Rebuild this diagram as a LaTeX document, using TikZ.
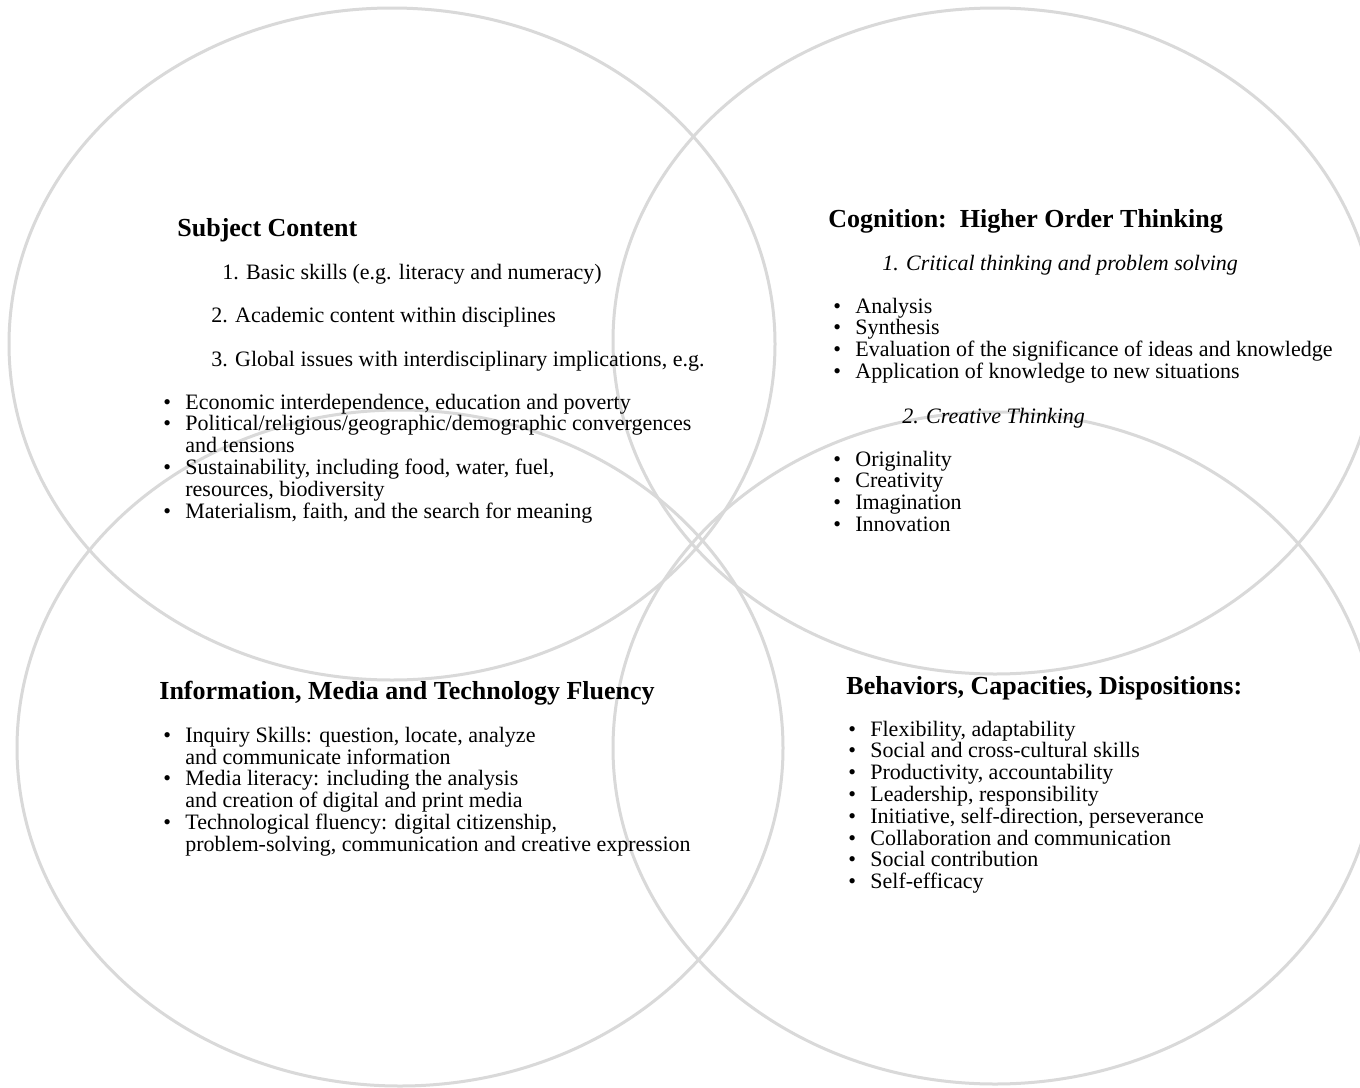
\documentclass[tikz,border=0pt]{standalone}
\usepackage{fontspec}
\setmainfont{Liberation Serif}
\usetikzlibrary{positioning}

\newcommand{\bul}{\makebox[11pt][l]{\textbullet}}

\begin{document}
\begin{tikzpicture}[
    x=0.5pt, y=-0.5pt,
    ring/.style={draw=black!15, line width=1.5pt},
    heading/.style={anchor=base west, inner sep=0pt, font=\fontsize{13}{15}\selectfont\bfseries},
    item/.style={anchor=base west, inner sep=0pt, font=\fontsize{11}{13}\selectfont},
    subhead/.style={item, font=\fontsize{11}{13}\selectfont\itshape},
    bullets/.style={anchor=base west, inner sep=0pt, font=\fontsize{11}{10.85}\selectfont}
]
    \useasboundingbox[fill=white] (0,0) rectangle (1360,1087);
    \draw[ring] (392,344) ellipse [x radius=383, y radius=336];
    \draw[ring] (995,341) ellipse [x radius=382, y radius=333];
    \draw[ring] (400,748) ellipse [x radius=383, y radius=338];
    \draw[ring] (995,748) ellipse [x radius=382, y radius=336];

    \node (subj) [heading] at (177,236) {Subject Content};
    \node (basic) [item] at ([shift={(45,43)}]subj.base west) {1. Basic skills (e.g. literacy and numeracy)};
    \node (academic) [item] at ([shift={(-11,43)}]basic.base west) {2. Academic content within disciplines};
    \node (global) [item] at ([shift={(0,44)}]academic.base west) {3. Global issues with interdisciplinary implications, e.g.};
    \node (issues) [bullets] at ([shift={(-48,43)}]global.base west) {\begin{tabular}[t]{@{}l@{}l@{}}
        \bul & Economic interdependence, education and poverty \\
        \bul & Political/religious/geographic/demographic convergences \\
             & and tensions \\
        \bul & Sustainability, including food, water, fuel, \\
             & resources, biodiversity \\
        \bul & Materialism, faith, and the search for meaning
    \end{tabular}};

    \node (cogn) [heading] at (828,227) {Cognition:\ \ Higher Order Thinking};
    \node (critical) [subhead] at ([shift={(54,43)}]cogn.base west) {1. Critical thinking and problem solving};
    \node (critlist) [bullets] at ([shift={(-49,43)}]critical.base west) {\begin{tabular}[t]{@{}l@{}l@{}}
        \bul & Analysis \\
        \bul & Synthesis \\
        \bul & Evaluation of the significance of ideas and knowledge \\
        \bul & Application of knowledge to new situations
    \end{tabular}};
    \node (creative) [subhead] at ([shift={(20,153)}]critical.base west) {2. Creative Thinking};
    \node (crealist) [bullets] at ([shift={(-69,43)}]creative.base west) {\begin{tabular}[t]{@{}l@{}l@{}}
        \bul & Originality \\
        \bul & Creativity \\
        \bul & Imagination \\
        \bul & Innovation
    \end{tabular}};

    \node (media) [heading] at (159,699) {Information, Media and Technology Fluency};
    \node (medialist) [bullets] at ([shift={(4,43)}]media.base west) {\begin{tabular}[t]{@{}l@{}l@{}}
        \bul & Inquiry Skills: question, locate, analyze \\
             & and communicate information \\
        \bul & Media literacy: including the analysis \\
             & and creation of digital and print media \\
        \bul & Technological fluency: digital citizenship, \\
             & problem-solving, communication and creative expression
    \end{tabular}};

    \node (behav) [heading] at (846,694) {Behaviors, Capacities, Dispositions:};
    \node (behavlist) [bullets] at ([shift={(2,42)}]behav.base west) {\begin{tabular}[t]{@{}l@{}l@{}}
        \bul & Flexibility, adaptability \\
        \bul & Social and cross-cultural skills \\
        \bul & Productivity, accountability \\
        \bul & Leadership, responsibility \\
        \bul & Initiative, self-direction, perseverance \\
        \bul & Collaboration and communication \\
        \bul & Social contribution \\
        \bul & Self-efficacy
    \end{tabular}};
\end{tikzpicture}
\end{document}
